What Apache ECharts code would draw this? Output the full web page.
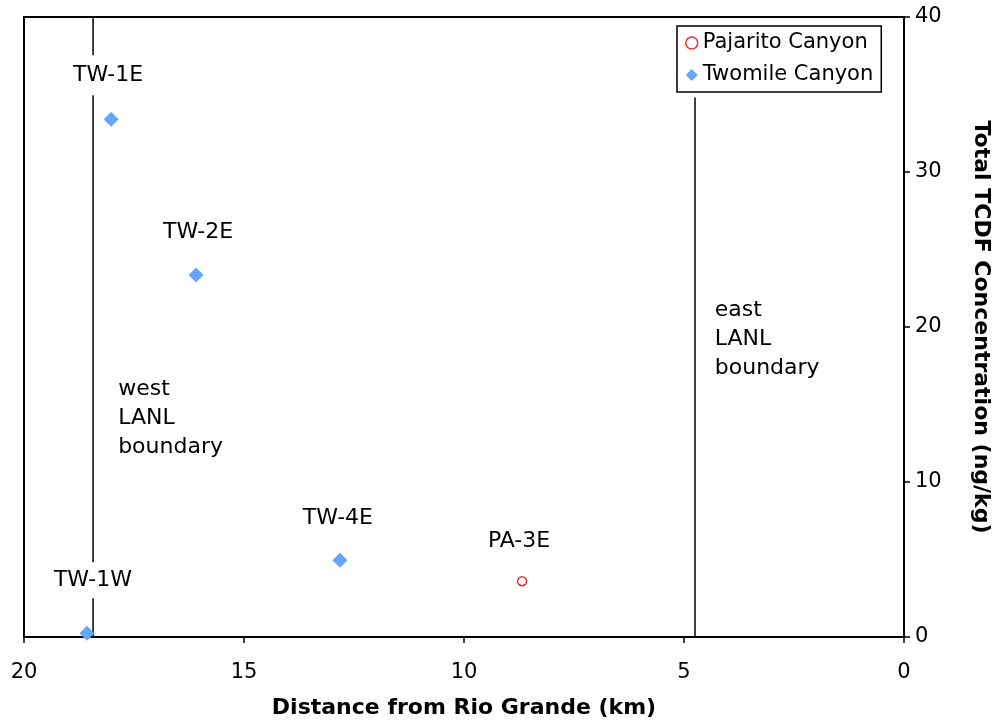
<!DOCTYPE html>
<html>
<head>
<meta charset="utf-8">
<script src="https://cdn.jsdelivr.net/npm/echarts@6/dist/echarts.min.js"></script>
<style>
html,body{margin:0;padding:0;background:#fff;}
#chart{width:994px;height:723px;}
</style>
</head>
<body>
<div id="chart"></div>
<script>
// Data (distance from Rio Grande in km, total TCDF in ng/kg)
const pajaritoNames = ['PA-3E'];
const pajaritoValues = [[8.68, 3.6]];
const twomileNames = ['TW-1W', 'TW-1E', 'TW-2E', 'TW-4E'];
const twomileValues = [[18.57, 0.25], [18.02, 33.4], [16.09, 23.35], [12.82, 4.95]];
const westBoundaryLine = [[18.43, 0], [18.43, 40]];
const eastBoundaryLine = [[4.75, 0], [4.75, 34.8]];
const boundaryNotes = [
  { text: 'west\nLANL\nboundary', at: [17.86, 14.13] },
  { text: 'east\nLANL\nboundary', at: [4.30, 19.23] }
];
const xTicks = [0, 5, 10, 15, 20];
const yTicks = [0, 10, 20, 30, 40];

const FONT = 'DejaVu Sans';
// label offsets per point (pixel layout only)
const twOffsets = [[6, -53], [-3, -44], [2, -43], [-2, -42]];
const twPad = [[7, 4], [9, 4], [4, 4], [4, 4]];

const chart = echarts.init(document.getElementById('chart'));
const option = {
  animation: false,
  backgroundColor: '#fff',
  textStyle: { fontFamily: FONT },
  grid: {
    left: 24, right: 90, top: 17, bottom: 86,
    containLabel: false, outerBoundsMode: 'none',
    show: true, borderColor: '#000', borderWidth: 2, backgroundColor: 'transparent'
  },
  legend: {
    orient: 'vertical',
    left: 677, top: 26,
    padding: [6, 8, 6, 8],
    borderColor: '#000', borderWidth: 1.5,
    itemWidth: 12, itemHeight: 12, itemGap: 10,
    textStyle: { fontFamily: FONT, fontSize: 21, color: '#000', lineHeight: 22, padding: [0, 0, 0, 0] },
    data: [
      { name: 'Pajarito Canyon', icon: 'circle', itemStyle: { color: '#fff', borderColor: '#e8303a', borderWidth: 1.5, opacity: 1 } },
      { name: 'Twomile Canyon', icon: 'diamond', itemStyle: { color: '#64a6ff', borderWidth: 0, opacity: 1 } }
    ]
  },
  xAxis: {
    type: 'value', inverse: true, min: xTicks[0], max: xTicks[xTicks.length - 1], interval: 5,
    name: 'Distance from Rio Grande (km)', nameLocation: 'middle', nameGap: 60,
    nameTextStyle: { fontFamily: FONT, fontSize: 22, fontWeight: 'bold', color: '#000' },
    axisLine: { show: true, lineStyle: { color: '#000', width: 2 } },
    axisTick: { show: true, length: 6, lineStyle: { color: '#000', width: 1.5 } },
    axisLabel: { fontFamily: FONT, fontSize: 21, color: '#000', margin: 25 },
    splitLine: { show: false }
  },
  yAxis: {
    type: 'value', position: 'right', min: yTicks[0], max: yTicks[yTicks.length - 1], interval: 10,
    name: 'Total TCDF Concentration (ng/kg)', nameLocation: 'middle', nameGap: 66, nameRotate: -90,
    nameTextStyle: { fontFamily: FONT, fontSize: 22, fontWeight: 'bold', color: '#000' },
    axisLine: { show: true, lineStyle: { color: '#000', width: 2 } },
    axisTick: { show: true, length: 6, lineStyle: { color: '#000', width: 1.5 } },
    axisLabel: { fontFamily: FONT, fontSize: 21, color: '#000', margin: 11 },
    splitLine: { show: false }
  },
  series: [
    {
      name: 'westLine', type: 'line', data: westBoundaryLine, symbol: 'none', z: 1,
      lineStyle: { color: '#000', width: 1.5 }, silent: true
    },
    {
      name: 'eastLine', type: 'line', data: eastBoundaryLine, symbol: 'none', z: 1,
      lineStyle: { color: '#000', width: 1.5 }, silent: true
    },
    {
      name: 'notes', type: 'scatter', symbolSize: 0, z: 2, silent: true,
      itemStyle: { opacity: 1 },
      data: boundaryNotes.map(n => ({ value: n.at, label: { formatter: n.text } })),
      label: {
        show: true, position: 'right', distance: 0, align: 'left',
        fontFamily: FONT, fontSize: 22, color: '#000', lineHeight: 29
      }
    },
    {
      name: 'Pajarito Canyon', type: 'scatter', z: 4,
      symbol: 'circle', symbolSize: 9,
      itemStyle: { color: '#fff', borderColor: '#e8303a', borderWidth: 1.5, opacity: 1 },
      data: pajaritoValues.map((v, i) => ({ value: v, name: pajaritoNames[i] })),
      label: {
        show: true, position: 'inside', offset: [-3, -40],
        formatter: p => p.name,
        fontFamily: FONT, fontSize: 22, color: '#000', backgroundColor: '#fff', padding: [4, 4]
      }
    },
    {
      name: 'Twomile Canyon', type: 'scatter', z: 4,
      symbol: 'diamond', symbolSize: 15,
      itemStyle: { color: '#64a6ff', opacity: 1 },
      data: twomileValues.map((v, i) => ({
        value: v, name: twomileNames[i],
        label: { offset: twOffsets[i], padding: twPad[i] }
      })),
      label: {
        show: true, position: 'inside',
        formatter: p => p.name,
        fontFamily: FONT, fontSize: 22, color: '#000', backgroundColor: '#fff'
      }
    }
  ]
};
chart.setOption(option);
</script>
</body>
</html>
